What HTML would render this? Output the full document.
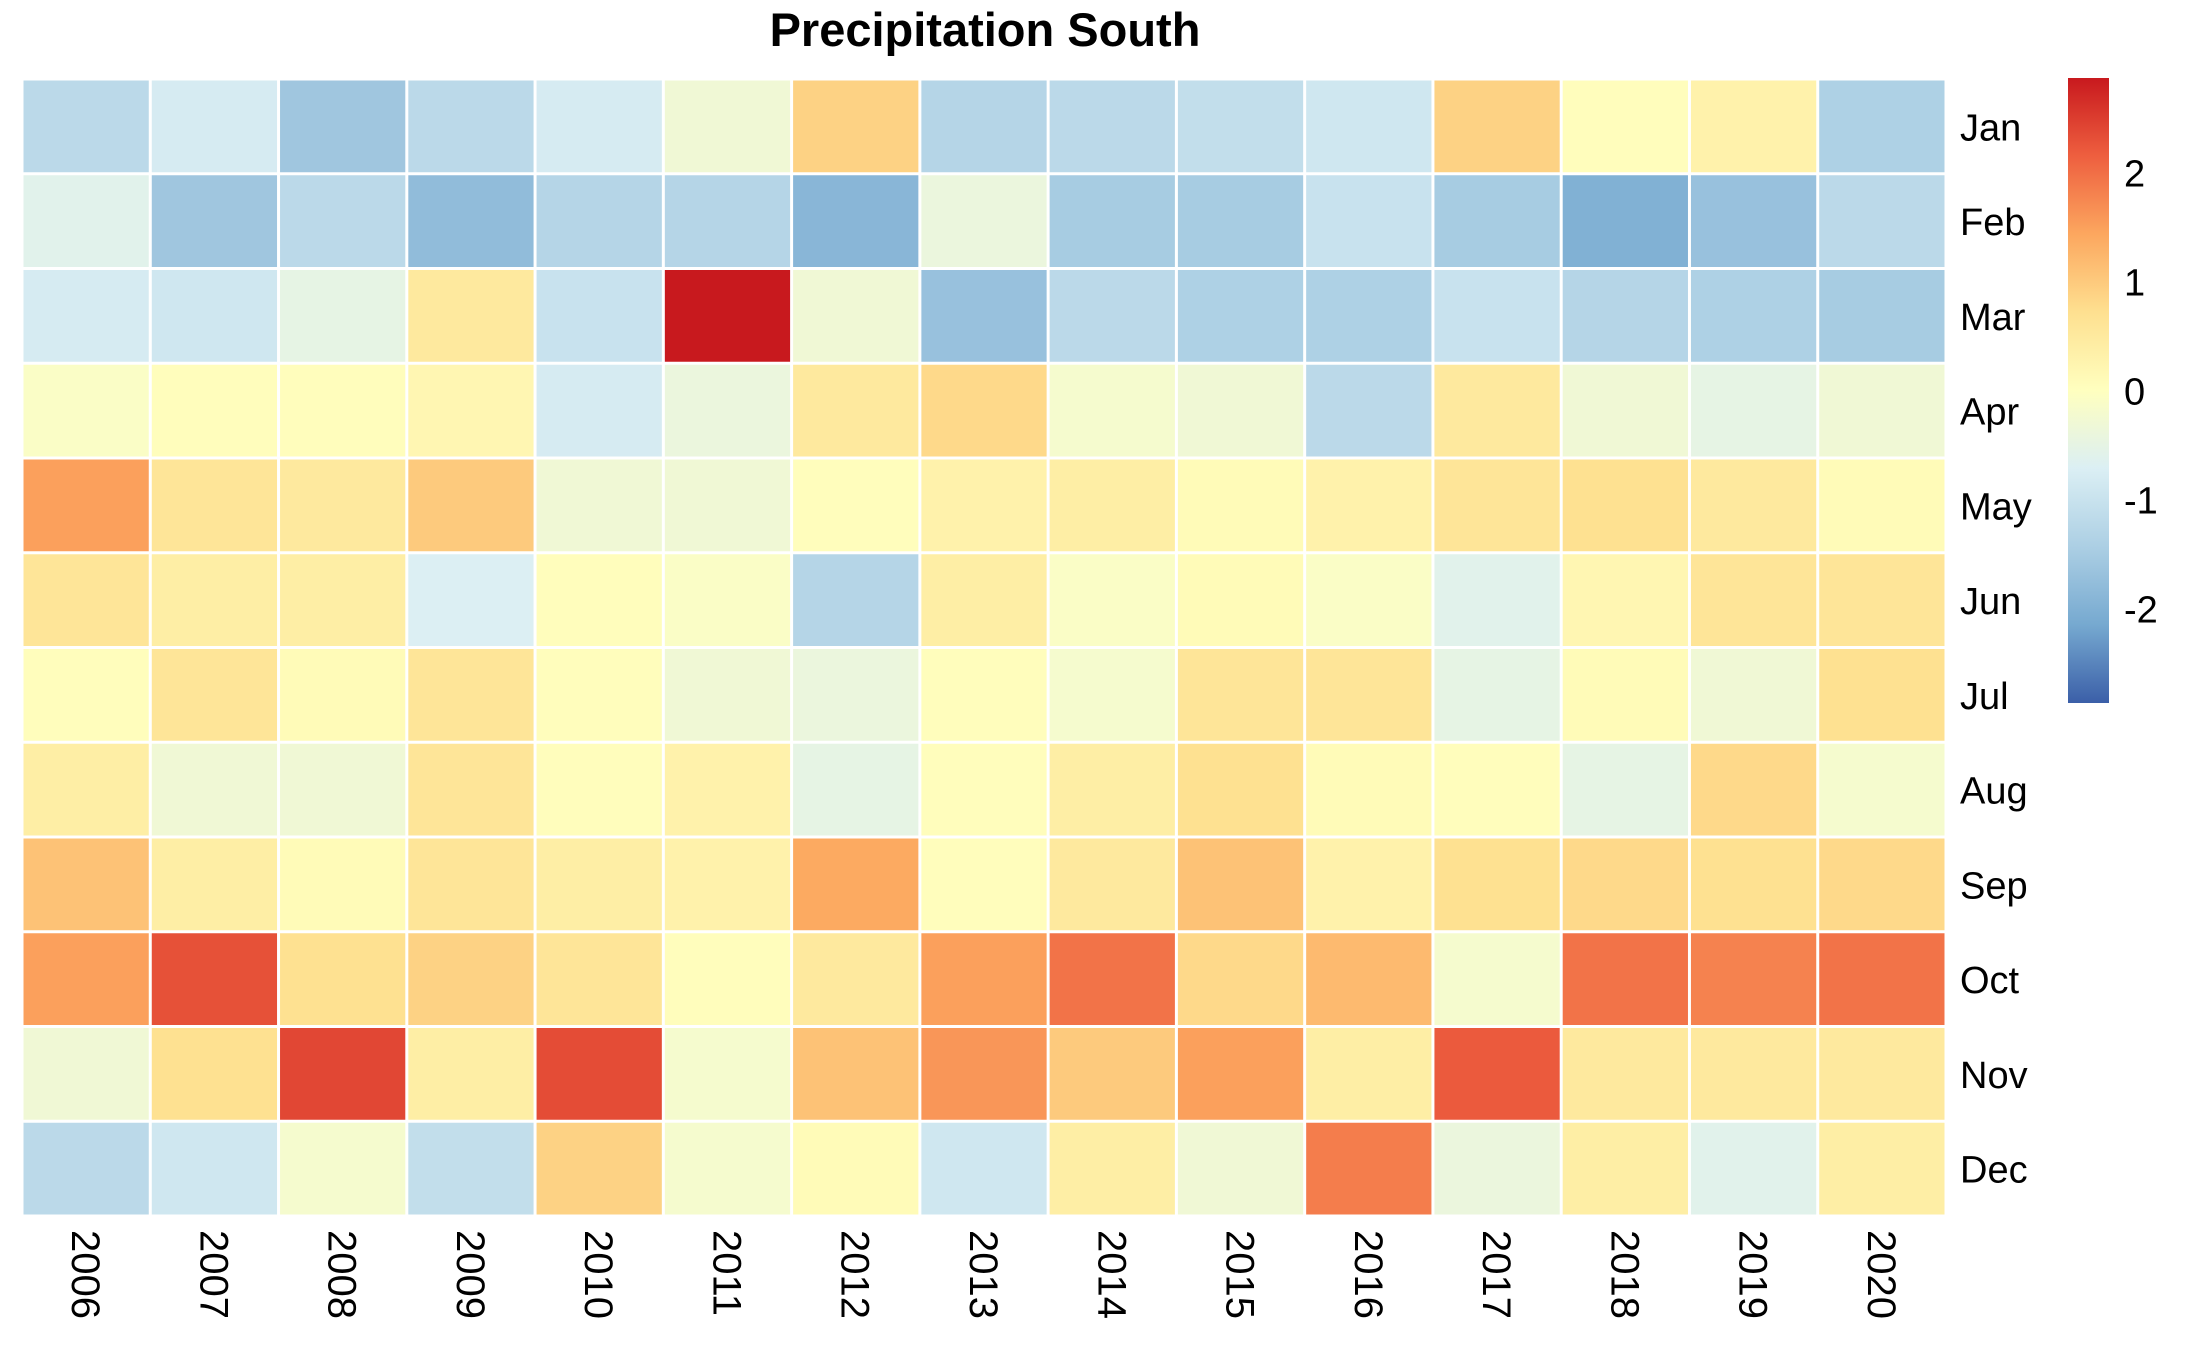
<!DOCTYPE html>
<html><head><meta charset="utf-8"><style>
html,body{margin:0;padding:0;background:#fff;}
svg{display:block;font-family:"Liberation Sans",Arial,sans-serif;}
</style></head><body>
<svg id="chart" width="2187" height="1351" viewBox="0 0 2187 1351" xmlns="http://www.w3.org/2000/svg">
<defs>
<linearGradient id="cbar" x1="0" y1="1" x2="0" y2="0">
<stop offset="0" stop-color="#3b5fa8"/>
<stop offset="0.125" stop-color="#76a9d0"/>
<stop offset="0.25" stop-color="#accfe4"/>
<stop offset="0.375" stop-color="#dbeff4"/>
<stop offset="0.5" stop-color="#ffffbf"/>
<stop offset="0.625" stop-color="#fee090"/>
<stop offset="0.75" stop-color="#fca75f"/>
<stop offset="0.875" stop-color="#ee5f3f"/>
<stop offset="1" stop-color="#c8191e"/>
</linearGradient>
</defs>
<text x="985" y="46" text-anchor="middle" font-size="47" font-weight="bold">Precipitation South</text>
<g id="cells"></g>
<g id="ylabels"></g>
<g id="xlabels"></g>
<rect x="2068" y="78" width="41" height="625" fill="url(#cbar)"/>
<g id="cticks"></g>
</svg>
<script>
const years = ["2006","2007","2008","2009","2010","2011","2012","2013","2014","2015","2016","2017","2018","2019","2020"];
const months = ["Jan","Feb","Mar","Apr","May","Jun","Jul","Aug","Sep","Oct","Nov","Dec"];
const jan = [-1.2,-0.8,-1.6,-1.2,-0.8,-0.3,0.9,-1.3,-1.2,-1.1,-0.9,0.9,0.05,0.3,-1.4];
const feb = [-0.6,-1.6,-1.2,-1.8,-1.3,-1.3,-1.9,-0.4,-1.5,-1.5,-1.0,-1.5,-2.0,-1.7,-1.2];
const mar = [-0.8,-0.9,-0.5,0.5,-1.0,2.87,-0.3,-1.7,-1.2,-1.4,-1.4,-1.0,-1.3,-1.4,-1.5];
const apr = [-0.1,0.05,0.05,0.2,-0.8,-0.4,0.5,0.8,-0.2,-0.3,-1.2,0.5,-0.3,-0.5,-0.3];
const may = [1.5,0.6,0.5,1.0,-0.3,-0.3,0.05,0.3,0.4,0.1,0.3,0.6,0.7,0.5,0.1];
const jun = [0.6,0.4,0.4,-0.7,0.05,-0.1,-1.3,0.4,-0.1,0.1,-0.1,-0.6,0.2,0.6,0.6];
const jul = [0.05,0.6,0.1,0.6,0.05,-0.3,-0.4,0.05,-0.2,0.6,0.6,-0.5,0.1,-0.3,0.7];
const aug = [0.4,-0.3,-0.3,0.6,0.05,0.3,-0.5,0.05,0.4,0.7,0.1,0.05,-0.5,0.8,-0.2];
const sep = [1.1,0.4,0.1,0.6,0.4,0.3,1.4,0.05,0.5,1.1,0.3,0.7,0.8,0.7,0.8];
const oct = [1.5,2.3,0.7,0.9,0.6,0.05,0.5,1.5,1.95,0.8,1.2,-0.2,1.95,1.8,1.95];
const nov = [-0.3,0.7,2.4,0.4,2.35,-0.2,1.1,1.6,1.0,1.5,0.4,2.2,0.5,0.5,0.5];
const dec = [-1.2,-0.9,-0.2,-1.1,0.9,-0.2,0.1,-0.9,0.4,-0.3,1.85,-0.4,0.4,-0.6,0.4];
const rows = [jan,feb,mar,apr,may,jun,jul,aug,sep,oct,nov,dec];
const cticks = [2,1,0,-1,-2];
const vmin = -2.87, vmax = 2.87;

const NS = "http://www.w3.org/2000/svg";
const L = 22, R = 1946, T = 79, B = 1216;
const cw = (R - L) / years.length, rh = (B - T) / months.length;
const xPos = i => L + i * cw;
const yPos = j => T + j * rh;
const cbTop = 78, cbBot = 703;
const cbY = v => cbBot - (v - vmin) / (vmax - vmin) * (cbBot - cbTop);
const stops = ["#3b5fa8","#76a9d0","#accfe4","#dbeff4","#ffffbf","#fee090","#fca75f","#ee5f3f","#c8191e"].map(h => [parseInt(h.slice(1,3),16),parseInt(h.slice(3,5),16),parseInt(h.slice(5,7),16)]);
function color(v){
  let t = Math.max(0, Math.min(1, (v - vmin) / (vmax - vmin))) * (stops.length - 1);
  let i = Math.min(stops.length - 2, Math.floor(t)), f = t - i;
  const c = stops[i].map((a,k) => Math.round(a + (stops[i+1][k] - a) * f));
  return "rgb(" + c.join(",") + ")";
}
const gc = document.getElementById("cells");
rows.forEach((row, j) => {
  row.forEach((v, i) => {
    const r = document.createElementNS(NS, "rect");
    r.setAttribute("x", xPos(i) + 1.5);
    r.setAttribute("y", yPos(j) + 1.5);
    r.setAttribute("width", cw - 3);
    r.setAttribute("height", rh - 3);
    r.setAttribute("fill", color(v));
    
    
    gc.appendChild(r);
  });
});
const gy = document.getElementById("ylabels");
months.forEach((m, j) => {
  const t = document.createElementNS(NS, "text");
  t.setAttribute("x", 1960);
  t.setAttribute("y", yPos(j) + rh / 2 + 14);
  t.setAttribute("font-size", "38");
  t.textContent = m;
  
  
  gy.appendChild(t);
});
const gx = document.getElementById("xlabels");
years.forEach((yv, i) => {
  const t = document.createElementNS(NS, "text");
  const cx = xPos(i) + cw / 2;
  t.setAttribute("x", 0);
  t.setAttribute("y", 0);
  t.setAttribute("font-size", "40");
  t.setAttribute("transform", "translate(" + (cx - 14) + ",1230) rotate(90)");
  t.textContent = yv;
  
  
  gx.appendChild(t);
});
const gt = document.getElementById("cticks");
cticks.forEach(v => {
  const t = document.createElementNS(NS, "text");
  t.setAttribute("x", 2124);
  t.setAttribute("y", cbY(v) + 14);
  t.setAttribute("font-size", "38");
  t.textContent = String(v);
  
  
  gt.appendChild(t);
});
</script>
</body></html>
